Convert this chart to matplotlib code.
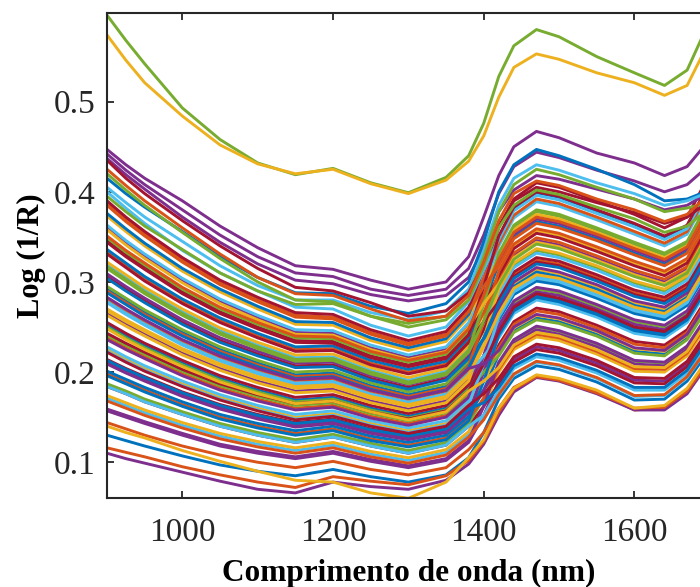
import numpy as np
import matplotlib.pyplot as plt

# NIR spectra, values (Log(1/R) x 1000)
wavelength = [900, 925, 950, 1000, 1050, 1100, 1150, 1200, 1250, 1300, 1350,
              1380, 1400, 1420, 1440, 1470, 1500, 1550, 1600, 1640, 1670, 1700]

top_green = [596, 568, 542, 493, 458, 432, 419, 426, 410, 399, 416,
             440, 476, 528, 562, 580, 572, 550, 532, 518, 535, 590]
top_yellow = [574, 546, 521, 484, 452, 431, 420, 425, 409, 398, 413,
              434, 462, 505, 538, 553, 547, 532, 521, 507, 518, 568]

# spectra lying above the main band
upper_spectra = [
    [447, 430, 415, 390, 362, 338, 318, 314, 302, 292, 300, 328, 372, 418, 450, 467, 460, 443, 432, 418, 428, 458],
    [442, 424, 408, 380, 352, 328, 310, 306, 292, 285, 292, 315, 352, 398, 428, 444, 438, 424, 412, 400, 408, 430],
    [437, 419, 403, 372, 344, 320, 302, 298, 286, 279, 285, 305, 338, 378, 402, 418, 414, 403, 392, 380, 385, 400],
    [415, 398, 383, 356, 328, 305, 288, 287, 273, 265, 276, 300, 345, 400, 430, 447, 440, 425, 408, 390, 392, 402],
    [405, 388, 372, 345, 318, 296, 280, 280, 266, 258, 268, 292, 335, 385, 415, 430, 424, 410, 398, 385, 390, 400],
    [395, 378, 362, 336, 310, 290, 275, 276, 262, 254, 262, 285, 328, 378, 408, 425, 419, 405, 392, 378, 382, 388],
    [435, 415, 398, 368, 340, 315, 294, 290, 277, 262, 268, 288, 320, 362, 390, 405, 400, 388, 377, 365, 372, 390],
    [420, 402, 385, 355, 326, 300, 280, 278, 262, 250, 258, 280, 318, 360, 385, 402, 397, 383, 370, 355, 362, 382],
    [425, 407, 390, 360, 331, 305, 287, 285, 270, 257, 262, 285, 322, 368, 398, 412, 407, 392, 380, 367, 375, 398],
]
upper_colors = [3, 3, 3, 0, 5, 4, 6, 4, 1]

# main band of spectra
band_group1 = [
    [130, 124, 118, 107, 97, 90, 85, 92, 84, 78, 86, 105, 133, 170, 193, 207, 203, 189, 169, 170, 190, 225],
    [144, 137, 130, 118, 108, 100, 94, 101, 92, 86, 94, 114, 133, 160, 183, 196, 192, 178, 158, 160, 180, 215],
    [157, 150, 143, 130, 118, 110, 104, 110, 101, 94, 102, 122, 152, 190, 214, 228, 224, 210, 191, 190, 209, 246],
    [171, 163, 155, 141, 129, 120, 113, 119, 109, 102, 111, 131, 152, 180, 204, 217, 213, 199, 180, 180, 199, 236],
    [174, 166, 158, 144, 132, 123, 116, 122, 112, 105, 114, 134, 162, 200, 225, 239, 235, 220, 201, 200, 218, 256],
    [184, 176, 167, 153, 140, 130, 122, 128, 118, 110, 119, 140, 162, 187, 211, 225, 221, 207, 188, 187, 206, 243],
    [187, 179, 170, 156, 143, 133, 125, 131, 121, 113, 122, 143, 171, 210, 235, 250, 245, 231, 212, 210, 228, 266],
    [198, 189, 180, 164, 150, 140, 132, 137, 126, 119, 127, 148, 171, 203, 228, 242, 238, 223, 204, 203, 221, 259],
    [201, 192, 183, 167, 153, 143, 135, 140, 129, 122, 130, 151, 180, 220, 246, 260, 256, 242, 223, 220, 238, 277],
    [211, 201, 192, 175, 161, 150, 141, 145, 134, 127, 135, 157, 180, 207, 232, 247, 242, 228, 209, 207, 225, 263],
    [214, 204, 195, 178, 164, 153, 144, 148, 137, 130, 138, 160, 190, 230, 256, 271, 267, 252, 234, 230, 247, 287],
    [225, 214, 204, 187, 172, 160, 150, 154, 143, 135, 143, 166, 190, 223, 249, 263, 259, 245, 226, 223, 241, 280],
    [228, 217, 207, 190, 175, 163, 153, 157, 146, 138, 146, 169, 200, 240, 267, 282, 277, 263, 245, 240, 257, 297],
    [238, 227, 217, 198, 182, 170, 160, 163, 151, 143, 152, 174, 200, 227, 253, 268, 264, 249, 231, 227, 244, 284],
    [241, 230, 220, 201, 185, 173, 163, 166, 154, 146, 155, 177, 209, 250, 277, 292, 288, 273, 256, 250, 266, 307],
    [252, 240, 229, 210, 193, 180, 169, 172, 160, 151, 160, 183, 209, 243, 270, 285, 280, 266, 248, 243, 260, 300],
    [255, 243, 232, 213, 196, 183, 172, 175, 163, 154, 163, 186, 218, 260, 288, 303, 299, 284, 267, 260, 276, 318],
    [265, 253, 242, 221, 204, 190, 179, 181, 168, 159, 168, 192, 218, 247, 274, 289, 285, 270, 253, 247, 263, 304],
    [268, 256, 245, 224, 207, 193, 182, 184, 171, 162, 171, 195, 228, 270, 298, 314, 309, 295, 277, 270, 286, 328],
    [279, 266, 254, 232, 214, 200, 188, 190, 176, 167, 176, 200, 228, 263, 291, 306, 302, 287, 270, 263, 279, 321],
]
band_colors1 = [0, 1, 3, 5, 2, 6, 4, 1, 0, 3, 6, 2, 5, 1, 4, 0, 6, 3, 2, 5]

band_group2 = [
    [282, 269, 257, 235, 217, 203, 191, 193, 179, 170, 179, 203, 237, 280, 308, 324, 320, 305, 288, 280, 295, 338],
    [292, 279, 266, 244, 225, 210, 197, 199, 185, 175, 184, 209, 237, 267, 295, 311, 306, 292, 274, 267, 283, 325],
    [295, 282, 269, 247, 228, 213, 200, 202, 188, 178, 187, 212, 247, 290, 319, 335, 330, 316, 299, 290, 305, 348],
    [306, 292, 279, 255, 235, 220, 207, 208, 193, 183, 193, 217, 247, 283, 311, 327, 323, 308, 291, 283, 298, 341],
    [309, 295, 282, 258, 238, 223, 210, 211, 196, 186, 196, 220, 256, 300, 329, 346, 341, 326, 310, 300, 314, 359],
    [319, 305, 291, 267, 246, 230, 216, 217, 202, 191, 201, 226, 256, 287, 316, 332, 327, 313, 296, 287, 302, 345],
    [322, 308, 294, 270, 249, 233, 219, 220, 205, 194, 204, 229, 266, 310, 340, 357, 352, 337, 321, 310, 324, 369],
    [333, 318, 303, 278, 257, 240, 225, 226, 210, 200, 209, 235, 266, 303, 332, 349, 344, 329, 313, 303, 317, 362],
    [336, 321, 306, 281, 260, 243, 228, 229, 213, 203, 212, 238, 276, 320, 350, 367, 362, 348, 332, 320, 334, 379],
    [346, 330, 316, 289, 267, 250, 235, 234, 218, 208, 217, 243, 276, 307, 337, 354, 349, 334, 318, 307, 321, 366],
    [349, 333, 319, 292, 270, 253, 238, 237, 221, 211, 220, 246, 285, 330, 361, 378, 373, 358, 342, 330, 343, 389],
    [360, 343, 328, 301, 278, 260, 244, 243, 227, 216, 225, 252, 285, 323, 353, 370, 365, 351, 335, 323, 337, 382],
    [363, 346, 331, 304, 281, 263, 247, 246, 230, 219, 228, 255, 295, 340, 371, 389, 384, 369, 353, 340, 353, 400],
    [373, 356, 340, 312, 289, 270, 253, 252, 235, 224, 234, 261, 295, 327, 358, 375, 370, 355, 339, 327, 340, 386],
    [376, 359, 343, 315, 292, 273, 256, 255, 238, 227, 237, 264, 304, 350, 382, 399, 394, 379, 364, 350, 362, 410],
    [387, 369, 353, 324, 299, 280, 263, 261, 244, 232, 242, 269, 304, 343, 374, 392, 387, 372, 356, 343, 356, 403],
    [390, 372, 356, 327, 302, 283, 266, 264, 247, 235, 245, 272, 314, 360, 392, 410, 405, 390, 375, 360, 372, 420],
    [400, 382, 365, 335, 310, 290, 272, 270, 252, 240, 250, 278, 314, 347, 379, 396, 391, 376, 361, 347, 359, 407],
]
band_colors2 = [1, 0, 4, 6, 3, 5, 2, 1, 0, 6, 4, 3, 5, 2, 0, 1, 6, 5]

band_group3 = [
    [209, 199, 190, 173, 159, 148, 139, 143, 132, 125, 133, 155, 200, 252, 279, 294, 290, 275, 258, 252, 268, 309],
    [250, 238, 227, 208, 191, 178, 167, 170, 158, 149, 158, 181, 200, 218, 244, 258, 254, 240, 221, 218, 236, 275],
    [263, 251, 240, 219, 202, 188, 177, 179, 166, 157, 166, 190, 237, 292, 321, 337, 332, 318, 301, 292, 307, 350],
    [304, 290, 277, 253, 233, 218, 205, 206, 191, 181, 191, 215, 237, 258, 286, 301, 297, 282, 265, 258, 274, 316],
    [290, 277, 264, 242, 223, 208, 195, 197, 183, 173, 182, 207, 256, 312, 342, 359, 354, 339, 323, 312, 326, 371],
    [331, 316, 301, 276, 255, 238, 223, 224, 208, 198, 207, 233, 256, 278, 306, 322, 318, 303, 286, 278, 293, 336],
    [236, 225, 215, 196, 180, 168, 158, 161, 149, 141, 150, 172, 218, 272, 300, 316, 311, 297, 279, 272, 288, 330],
    [277, 264, 252, 230, 212, 198, 186, 188, 174, 165, 174, 198, 218, 238, 265, 280, 275, 261, 243, 238, 255, 295],
    [317, 303, 289, 265, 244, 228, 214, 215, 200, 189, 199, 224, 276, 332, 363, 380, 375, 360, 344, 332, 345, 391],
    [358, 341, 326, 299, 276, 258, 242, 241, 225, 214, 223, 250, 276, 298, 327, 344, 339, 324, 308, 298, 312, 357],
    [196, 187, 178, 162, 148, 138, 130, 135, 124, 117, 125, 146, 190, 241, 268, 283, 278, 264, 246, 241, 258, 298],
    [344, 328, 314, 287, 265, 248, 233, 232, 216, 206, 215, 241, 295, 351, 383, 400, 395, 380, 365, 351, 363, 411],
    [385, 367, 351, 322, 297, 278, 261, 259, 242, 230, 240, 267, 295, 318, 348, 365, 360, 346, 330, 318, 332, 377],
    [223, 212, 202, 185, 170, 158, 148, 152, 141, 133, 141, 164, 209, 261, 289, 304, 300, 285, 268, 261, 277, 319],
    [159, 152, 145, 132, 120, 112, 106, 112, 103, 96, 104, 124, 162, 211, 236, 251, 246, 232, 213, 211, 229, 267],
    [288, 275, 262, 240, 221, 206, 193, 195, 181, 171, 180, 205, 238, 276, 304, 320, 316, 301, 284, 276, 291, 334],
    [270, 258, 247, 226, 209, 195, 184, 186, 173, 164, 173, 197, 228, 265, 293, 308, 304, 289, 272, 265, 281, 323],
    [315, 301, 287, 263, 242, 226, 212, 213, 198, 187, 197, 222, 257, 296, 325, 342, 337, 322, 306, 296, 310, 355],
    [243, 232, 222, 203, 187, 175, 165, 168, 156, 148, 157, 179, 209, 245, 272, 287, 282, 268, 250, 245, 262, 302],
    [351, 335, 321, 294, 272, 255, 240, 239, 223, 213, 222, 248, 285, 325, 355, 372, 367, 353, 337, 325, 339, 384],
]
band_colors3 = [3, 4, 2, 0, 1, 6, 3, 5, 4, 2, 0, 6, 1, 5, 3, 0, 2, 4, 6, 1]

# spectra that drop to the lower edge of the band after 1400 nm
band_group4 = [
    [184, 176, 167, 153, 140, 130, 122, 128, 118, 110, 119, 140, 152, 174, 197, 211, 207, 193, 173, 174, 194, 229],
    [213, 203, 194, 177, 163, 152, 143, 147, 136, 129, 137, 159, 166, 183, 207, 220, 216, 202, 183, 183, 202, 239],
    [222, 211, 201, 184, 169, 157, 147, 151, 140, 132, 140, 163, 176, 193, 217, 231, 227, 213, 194, 193, 212, 249],
    [248, 236, 225, 206, 189, 176, 165, 168, 156, 147, 156, 179, 190, 205, 230, 244, 240, 225, 206, 205, 223, 261],
    [283, 270, 258, 236, 218, 204, 192, 194, 180, 171, 180, 204, 209, 224, 250, 264, 260, 246, 227, 224, 242, 281],
    [168, 160, 152, 138, 126, 117, 110, 116, 106, 99, 108, 128, 147, 175, 198, 212, 208, 194, 174, 175, 195, 230],
]
band_colors4 = [5, 0, 6, 2, 3, 1]

# lowest spectra
low_spectra = [
    [110, 104, 99, 89, 79, 70, 66, 78, 73, 70, 80, 98, 120, 152, 178, 194, 190, 176, 158, 158, 176, 212],
    [116, 111, 106, 95, 86, 78, 72, 84, 79, 75, 85, 102, 123, 156, 181, 195, 191, 177, 160, 161, 179, 214],
    [140, 133, 127, 113, 101, 90, 80, 78, 66, 60, 78, 105, 125, 160, 182, 197, 193, 180, 160, 163, 182, 218],
]
low_colors = [3, 1, 2]

# MATLAB default colour order
palette = ['#0072BD', '#D95319', '#EDB120', '#7E2F8E', '#77AC30', '#4DBEEE', '#A2142F']

plt.rcParams['font.family'] = ['Liberation Serif', 'DejaVu Serif']

fig = plt.figure(figsize=(7, 5.87), dpi=100)
ax = fig.add_axes([0.1529, 0.1511, 0.861, 0.8262])


def draw(rows, colors):
    for row, c in zip(rows, colors):
        ax.plot(wavelength, np.array(row) / 1000, color=palette[c], lw=2.1,
                solid_joinstyle='round')


draw(band_group1, band_colors1)
draw(band_group2, band_colors2)
draw(band_group3, band_colors3)
draw(band_group4, band_colors4)
draw(low_spectra, low_colors)
draw(upper_spectra, upper_colors)
draw([top_green, top_yellow], [4, 2])

ax.set_xlim(900, 1700)
ax.set_ylim(0.06, 0.598)
ax.set_xticks([1000, 1200, 1400, 1600])
ax.set_yticks([0.1, 0.2, 0.3, 0.4, 0.5])
ax.tick_params(direction='in', top=True, right=True, length=5, width=1.3,
               labelsize=24, colors='#262626')
ax.tick_params(axis='x', pad=13.5)
ax.tick_params(axis='y', pad=8)
for s in ax.spines.values():
    s.set_linewidth(1.5)
    s.set_color('#262626')

ax.set_xlabel('Comprimento de onda (nm)', fontsize=22.5, fontweight='bold', labelpad=8)
ax.set_ylabel('Log (1/R)', fontsize=22, fontweight='bold', labelpad=6)

fig.savefig('out.png', dpi=100)
